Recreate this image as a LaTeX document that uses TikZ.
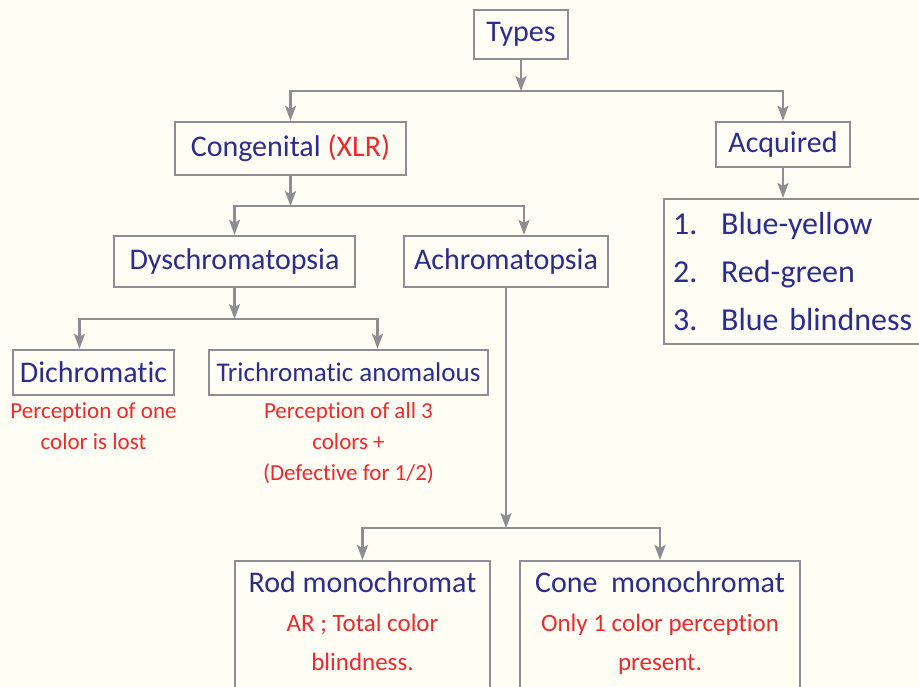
\documentclass[tikz,border=0pt]{standalone}
\usepackage{fontspec}
\setmainfont{Carlito}[Ligatures=NoCommon]
\usetikzlibrary{arrows.meta, positioning, calc}
\definecolor{inkblue}{HTML}{2B2C8E}
\definecolor{inkred}{HTML}{EC2A2E}
\definecolor{linegray}{HTML}{8C8E92}
\definecolor{paper}{HTML}{FFFEF4}
\tikzset{
  box/.style={rectangle, draw=linegray, line width=2.3pt, text=inkblue, font=\fontsize{30}{36}\selectfont, inner sep=4pt, align=center},
  note/.style={text=inkred, font=\fontsize{23}{31}\selectfont, inner sep=0pt, align=center},
  monotext/.style={text=inkred, font=\fontsize{25}{39}\selectfont, inner sep=0pt, align=center},
  arrowline/.style={-{Stealth[length=15pt, width=11pt, inset=3pt]}, draw=linegray, line width=2.3pt},
}

\begin{document}
\begin{tikzpicture}[x=1pt, y=-1pt, node distance=6pt]
\fill[paper] (0,0) rectangle (919,687);
\useasboundingbox (0,0) rectangle (919,687);

% top levels
\node[box, minimum width=94pt, minimum height=49pt] (types) at (521,34.5) {Types};
\node[box, minimum width=231pt, minimum height=53pt] (cong) at (290.5,148.5) {Congenital {\color{inkred}(XLR)}};
\node[box, minimum width=134pt, minimum height=45pt] (acq) at (783,144.5) {Acquired};
\node[box, anchor=north west, minimum height=145pt, text width=240pt, inner xsep=9pt, align=left,
      font=\fontsize{32}{48}\selectfont] (list) at (663,198)
  {\makebox[48pt][l]{1.}Blue-yellow\\\makebox[48pt][l]{2.}Red-green\\\makebox[48pt][l]{3.}Blue blindness};

% congenital branch
\node[box, minimum width=241pt, minimum height=51pt] (dysch) at (234.5,261.5) {Dyschromatopsia};
\node[box, minimum width=204pt, minimum height=51pt] (achro) at (506,261.5) {Achromatopsia};
\node[box, minimum width=161pt, minimum height=45pt] (dich) at (93.5,372.5) {Dichromatic};
\node[box, minimum width=279pt, minimum height=45pt, font=\fontsize{27}{32}\selectfont] (trich) at (348.5,372.5) {Trichromatic anomalous};
\node[note, below=6pt of dich] (dichnote) {Perception of one\\color is lost};
\node[note, below=6pt of trich] (trichnote) {Perception of all 3\\colors +\\(Defective for 1/2)};

% monochromats
\node[box, anchor=north, minimum width=255pt, minimum height=150pt] (rod) at (362.5,560) {};
\node[box, anchor=north, minimum width=280pt, minimum height=150pt] (cone) at (660,560) {};
\node[monotext, below=11pt of rod.north] (rodtxt) {{\color{inkblue}\fontsize{30}{39}\selectfont Rod monochromat}\\AR ; Total color\\blindness.};
\node[monotext, below=11pt of cone.north] (conetxt) {{\color{inkblue}\fontsize{30}{39}\selectfont Cone\ \ monochromat}\\Only 1 color perception\\present.};

% junctions
\coordinate[below=31pt of types] (j1);
\coordinate[below=30pt of cong] (j2);
\coordinate[below=31pt of dysch] (j3);
\coordinate[below=240pt of achro] (j4);

\draw[arrowline] (types) -- (j1);
\draw[arrowline] (j1) -| (cong);
\draw[arrowline] (j1) -| (acq);
\draw[arrowline] (acq) -- (acq.south |- list.north);
\draw[arrowline] (cong) -- (j2);
\draw[arrowline] (j2) -| (dysch);
\draw[arrowline] (j2) -| ([xshift=18pt]achro.north);
\draw[arrowline] (dysch) -- (j3);
\draw[arrowline] (j3) -| ([xshift=-14pt]dich.north);
\draw[arrowline] (j3) -| ([xshift=29pt]trich.north);
\draw[arrowline] (achro) -- (j4);
\draw[arrowline] (j4) -| (rod);
\draw[arrowline] (j4) -| (cone);
\end{tikzpicture}
\end{document}
